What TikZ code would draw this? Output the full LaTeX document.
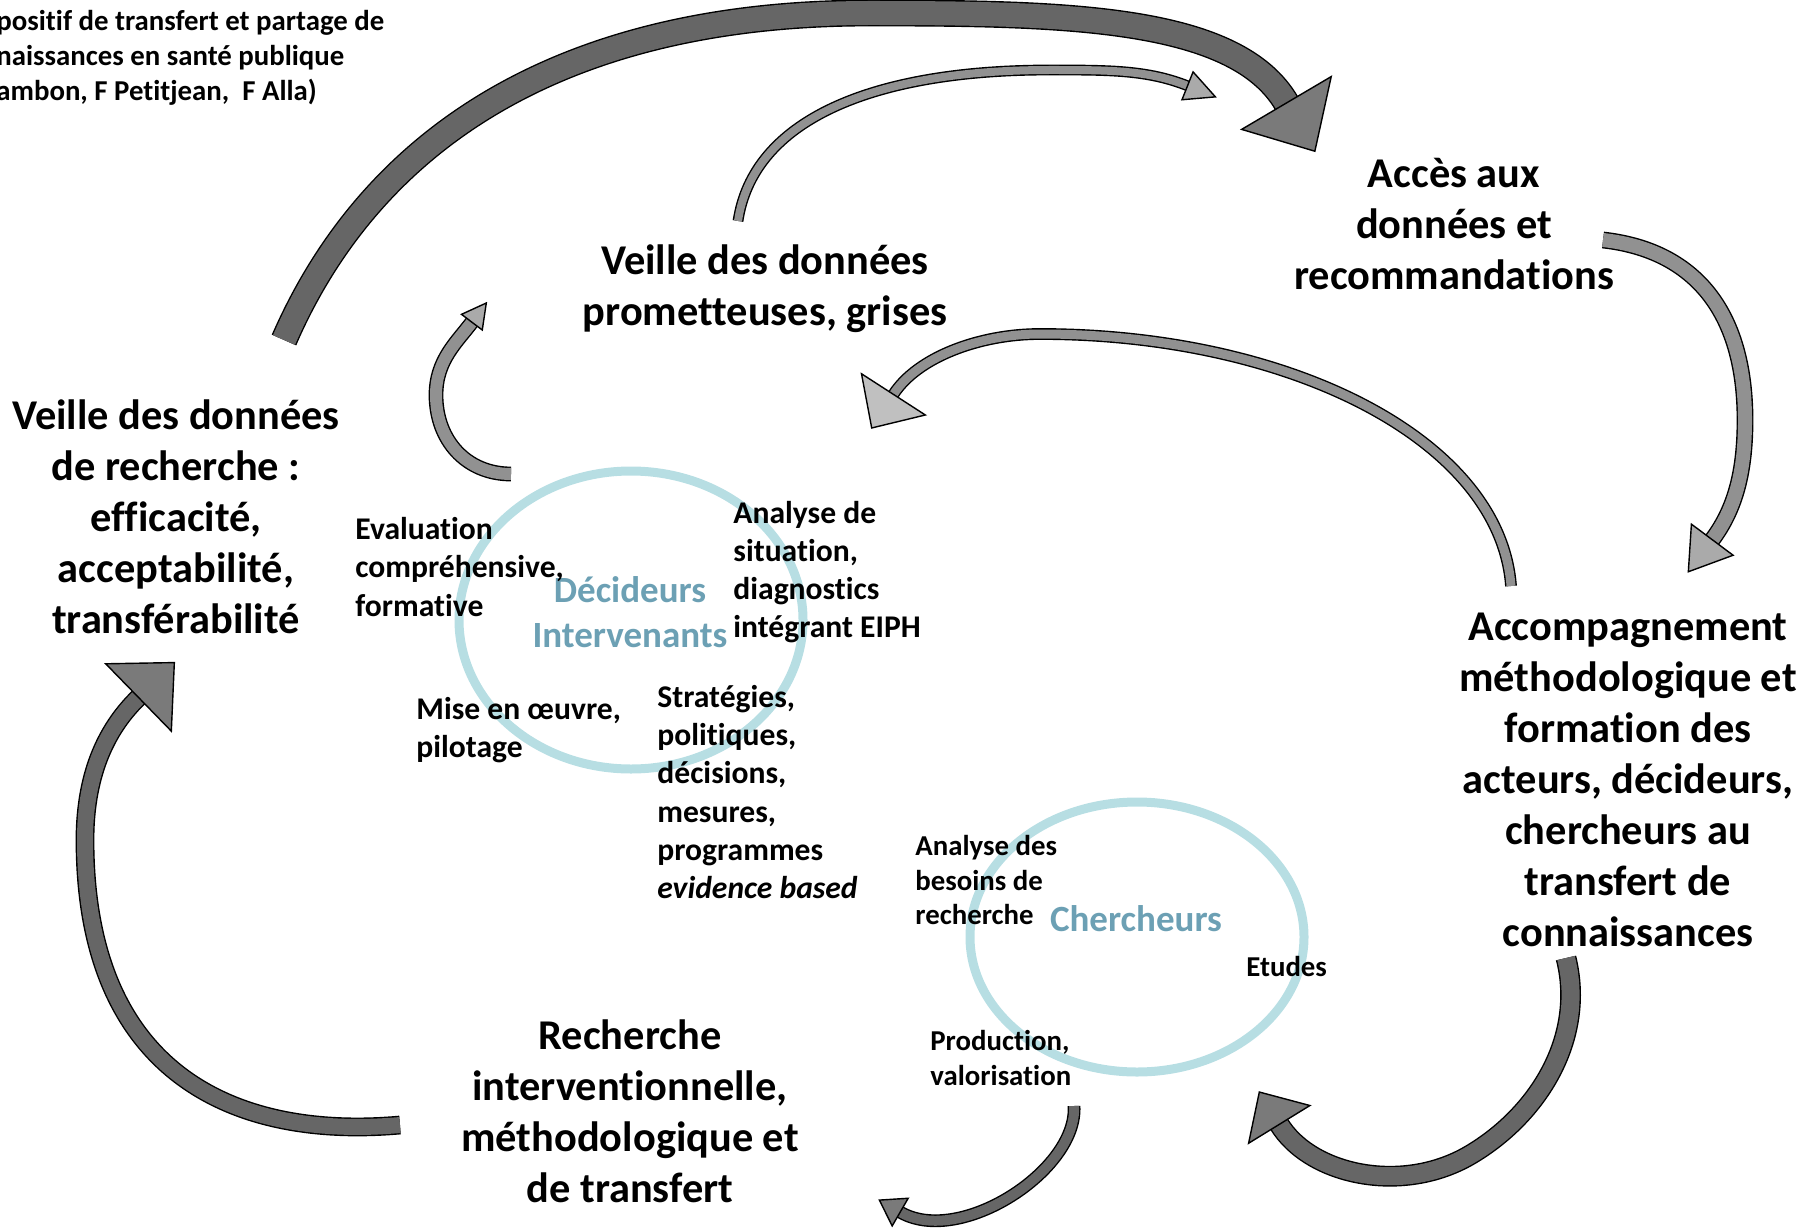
\documentclass[tikz,border=0pt]{standalone}
\usepackage{fontspec}
\setmainfont{Carlito}[Ligatures=CommonOff]
\usetikzlibrary{decorations.markings}
\definecolor{bluering}{RGB}{183,222,227}
\definecolor{bluetext}{RGB}{108,160,180}
\definecolor{darkband}{RGB}{102,102,102}
\definecolor{darkhead}{RGB}{122,122,122}
\definecolor{midband}{RGB}{145,145,145}
\definecolor{midhead}{RGB}{170,170,170}
\definecolor{lighthead}{RGB}{192,192,192}

\begin{document}
\begin{tikzpicture}[x=0.5pt, y=-0.5pt,
bigtext/.style={font=\fontsize{21.2}{25.5}\selectfont\bfseries, align=center, inner sep=0pt},
midtext/.style={font=\fontsize{15.8}{19.1}\selectfont\bfseries, align=left, inner sep=0pt, anchor=west},
smalltext/.style={font=\fontsize{14.4}{17.4}\selectfont\bfseries, align=left, inner sep=0pt, anchor=west},
actor/.style={font=\fontsize{18.5}{22.5}\selectfont\bfseries, text=bluetext, align=center, inner sep=0pt},
ring/.style={draw=bluering, line width=4.5pt},
band/.style n args={5}{line width=#1, draw=#2, preaction={draw=black, line width=#1+1.4pt},
  postaction={decorate, decoration={markings, mark=at position 0.999 with {\filldraw[fill=#3, draw=black, line width=0.7pt, line join=miter] (0pt,-#4) -- (#5,0pt) -- (0pt,#4) -- cycle;}}}}
]
\useasboundingbox (0,0) rectangle (1818,1230);

\draw[ring] (631,620) ellipse [x radius=86pt, y radius=74.5pt];
\draw[ring] (1137,937) ellipse [x radius=83.5pt, y radius=67.5pt];

\node[smalltext] (TL) at (-4,58) {positif de transfert et partage de\\naissances en santé publique\\ambon, F Petitjean,\ \ F Alla)};

\node[bigtext] (VP) at (765,289) {Veille des données\\prometteuses, grises};
\node[bigtext] (AD) at (1454,224) {Accès aux\\données et\\recommandations};
\node[bigtext] (VR) at (176,517) {Veille des données\\de recherche :\\efficacité,\\acceptabilité,\\transférabilité};
\node[bigtext] (AM) at (1628,780) {Accompagnement\\méthodologique et\\formation des\\acteurs, décideurs,\\chercheurs au\\transfert de\\connaissances};
\node[bigtext] (RI) at (630,1111) {Recherche\\interventionnelle,\\méthodologique et\\de transfert};

\node[actor] (DI) at (630,612) {Décideurs\\Intervenants};
\node[actor] (CH) at (1136,919) {Chercheurs};

\node[midtext] (EV) at (355,567) {Evaluation\\compréhensive,\\formative};
\node[midtext] (AS) at (733,572) {Analyse de\\situation,\\diagnostics\\intégrant EIPH};
\node[midtext] (MO) at (416,730) {Mise en œuvre,\\pilotage};
\node[midtext] (ST) at (657,792) {Stratégies,\\politiques,\\décisions,\\mesures,\\programmes\\\textit{evidence based}};

\node[smalltext] (AB) at (915,880) {Analyse des\\besoins de\\recherche};
\node[smalltext] (ET) at (1246,966) {Etudes};
\node[smalltext] (PV) at (930,1058) {Production,\\valorisation};

\coordinate (a1t) at (284,340);
\coordinate (a1m) at (870,13);
\coordinate (a1h) at (1287,104);
\coordinate (a2t) at (738,221);
\coordinate (a2m) at (1050,70);
\coordinate (a2h) at (1188,86);
\coordinate (a3t) at (1603,240);
\coordinate (a3m) at (1745,420);
\coordinate (a3h) at (1712,540);
\coordinate (a4t) at (1511,586);
\coordinate (a4m) at (1040,334);
\coordinate (a4h) at (893,395);
\coordinate (a5t) at (511,474);
\coordinate (a5m) at (436,395);
\coordinate (a5h) at (472,322);
\coordinate (a6t) at (400,1125);
\coordinate (a6m) at (85,840);
\coordinate (a6h) at (139,697);
\coordinate (a7t) at (1566,958);
\coordinate (a7m) at (1470,1155);
\coordinate (a7h) at (1279,1124);
\coordinate (a8t) at (1074,1106);
\coordinate (a8h) at (900,1212);

\draw[band={12pt}{darkband}{darkhead}{26pt}{28pt}] (a1t) .. controls +(80,-184) and +(-330,0) .. (a1m) .. controls +(200,0) and +(-50,-87) .. (a1h);
\draw[band={4pt}{midband}{midhead}{7.5pt}{15pt}] (a2t) .. controls +(15,-100) and +(-180,0) .. (a2m) .. controls +(60,0) and +(-40,-16) .. (a2h);
\draw[band={7pt}{midband}{midhead}{13pt}{20pt}] (a3t) .. controls +(90,10) and +(0,-110) .. (a3m) .. controls +(0,50) and +(24,-32) .. (a3h);
\draw[band={4.5pt}{midband}{lighthead}{19pt}{20pt}] (a4t) .. controls +(-11,-146) and +(250,0) .. (a4m) .. controls +(-60,0) and +(24,-38) .. (a4h);
\draw[band={6pt}{midband}{midhead}{6.5pt}{12pt}] (a5t) .. controls +(-45,0) and +(0,45) .. (a5m) .. controls +(0,-35) and +(-15,20) .. (a5h);
\draw[band={8pt}{darkband}{darkhead}{23.5pt}{25pt}] (a6t) .. controls +(-170,15) and +(0,230) .. (a6m) .. controls +(0,-70) and +(-30,29) .. (a6h);
\draw[band={9pt}{darkband}{darkhead}{18pt}{19pt}] (a7t) .. controls +(20,80) and +(68,-40) .. (a7m) .. controls +(-68,40) and +(31,51) .. (a7h);
\draw[band={5pt}{darkband}{darkhead}{8pt}{12pt}] (a8t) .. controls +(4,64) and +(60,35) .. (a8h);

\end{tikzpicture}
\end{document}
